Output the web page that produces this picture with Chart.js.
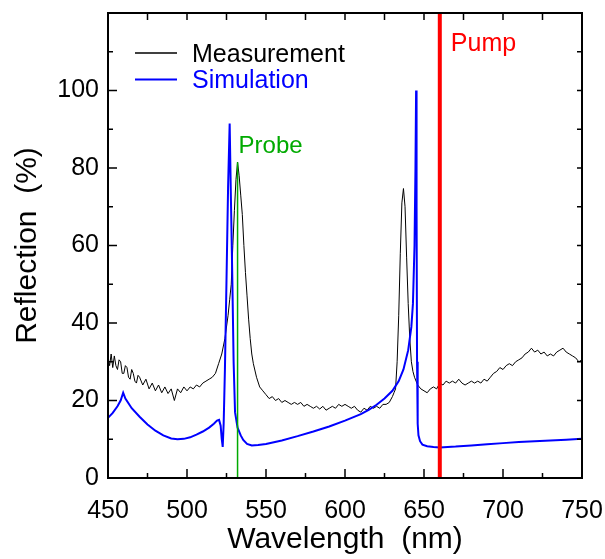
<!DOCTYPE html>
<html>
<head>
<meta charset="utf-8">
<script src="https://cdn.jsdelivr.net/npm/chart.js@4.4.1/dist/chart.umd.min.js"></script>
<style>
  html,body{margin:0;padding:0;background:#fff;}
  #c{display:block;}
</style>
</head>
<body>
<canvas id="c" width="605" height="559"></canvas>
<script>
/* ---- data ------------------------------------------------------------ */
const MEAS_WL = [450,451,452,453,454,455,456,457,458,459,460,461,462,463,464,465,466,467,468,469,
  470,472,474,476,478,480,482,484,486,488,
  490,492,494,496,498,500,502,504,506,508,510,512,514,516,518,520,522,524,526,527,528,529,530,531,
  532,533,534,535,536,537,538,539,540,541,542,544,546,548,550,552,554,556,558,560,562,564,566,568,
  570,572,574,576,578,580,582,584,586,588,590,592,594,596,598,600,602,604,606,608,610,612,614,616,
  618,620,622,624,626,628,630,631,632,633,634,635,636,637,638,639,640,641,642,643,644,646,648,650,
  652,654,656,658,660,662,664,666,668,670,672,674,676,678,680,682,684,686,688,690,692,694,696,698,
  700,702,704,706,708,710,712,714,716,718,720,722,724,726,728,730,732,734,736,738,740,742,744,746,
  748,750];
const MEAS_R = [31,29,32,28.5,31.5,29,28,30.5,30,27,27,29,28.5,26,25.5,28,27,25,24.5,26.5,
  26,24,25.5,23,24.5,22.5,24,22,23.5,21.8,
  23,20,23,22,23.5,22.5,23.5,23,24,23.5,24.5,25,25.5,26,27,29.5,32,36,42,46,50,60,69,77,
  81.5,78,73,68,60,53,47,41,36,32,29.5,26,23.5,22.5,21.5,20.5,21,20,20.5,19.5,20,19.5,19,19.5,
  19,19.5,18.5,19,18.5,18,18.5,17.8,18.5,17.5,18,18.5,18,19,18.5,19,18.5,18,18.5,17.5,17,18,17.5,18.5,
  18,18.5,18,19,19,19.5,21,22,23,30,42,58,71,74.7,70,57,45,36,30,27.5,26,24,23,22.5,
  22,23,23.5,23,24.5,24,25,24.5,25,24.5,25.5,24.5,24,24.5,25,24.5,25,24.5,25.5,25,26,27,27.5,28.5,
  28,29,29.5,29,30,30.5,31,32,32.5,33.5,32.5,33,32,32.5,31.5,32,31.5,32.5,33,33.5,32.5,32,31.5,31,
  30,30.5];

const SIM_WL = [450,453,456,458,459.6,461,465,470,475,480,485,490,494,498,502,506,510,514,517,519,
  520.3,521.3,522,522.6,523.2,524,525,526,527,527.8,528.7,529.5,530.4,532,534,535.6,538,541,545,550,
  560,570,580,590,600,610,615,620,625,630,634,637,640,642,643,644,644.6,645,645.3,645.6,646,646.5,
  647.5,649,652,656,660,670,680,690,700,710,720,730,740,750];
const SIM_R = [15.5,16.8,18.5,20,22,20.5,18,15.8,13.8,12.2,11,10.2,10,10.1,10.5,11.2,12,13,14,14.8,
  15,13.5,10,8,14,28,51,75,91.5,72,51,30,17,13,11,9.8,8.8,8.4,8.5,8.8,
  9.7,10.8,12,13.3,14.8,16.5,17.6,18.9,20.5,22.5,25,28,33,39,45,60,80,100,70,30,14,11,
  9.5,8.6,8.2,8,7.9,8.1,8.4,8.7,9,9.3,9.5,9.7,9.9,10.1];

const PROBE_WL = 532, PROBE_TOP = 81.5;
const PUMP_WL = 660;

const X_MAJOR = [450,500,550,600,650,700,750];
const X_MINOR = [475,525,575,625,675,725];
const Y_MAJOR = [0,20,40,60,80,100];
const Y_MINOR = [10,30,50,70,90,110];

const FONT = "'Liberation Sans', Arial, sans-serif";
const BLUE = "#0000ff", RED = "#ff0000", GREEN = "#00aa00";

const pts = (xs, ys) => xs.map((x,i)=>({x, y: ys[i]}));

/* ---- frame, inward ticks, labels, legend ----------------------------- */
const decor = {
  id: "decor",
  afterDraw(chart){
    const {ctx, chartArea: a, scales: {x, y}} = chart;
    ctx.save();
    ctx.strokeStyle = "#000";
    ctx.lineWidth = 1.5;
    ctx.beginPath();
    const tick = (x0,y0,x1,y1) => { ctx.moveTo(x0,y0); ctx.lineTo(x1,y1); };
    X_MAJOR.forEach(v=>{ const p = x.getPixelForValue(v); tick(p,a.bottom,p,a.bottom-9); tick(p,a.top,p,a.top+7); });
    X_MINOR.forEach(v=>{ const p = x.getPixelForValue(v); tick(p,a.bottom,p,a.bottom-5); tick(p,a.top,p,a.top+7); });
    Y_MAJOR.forEach(v=>{ const p = y.getPixelForValue(v); tick(a.left,p,a.left+9,p); tick(a.right,p,a.right-5,p); });
    Y_MINOR.forEach(v=>{ const p = y.getPixelForValue(v); tick(a.left,p,a.left+5,p); tick(a.right,p,a.right-5,p); });
    ctx.stroke();
    ctx.lineWidth = 2;
    ctx.strokeRect(a.left, a.top, a.right-a.left, a.bottom-a.top);

    // annotations
    ctx.textBaseline = "middle";
    ctx.textAlign = "left";
    ctx.font = "24px " + FONT;
    ctx.fillStyle = GREEN;
    ctx.fillText("Probe", x.getPixelForValue(PROBE_WL)+1, y.getPixelForValue(85.5));
    ctx.font = "25px " + FONT;
    ctx.fillStyle = RED;
    ctx.fillText("Pump", x.getPixelForValue(PUMP_WL)+11, y.getPixelForValue(112));

    // legend
    const items = [["Measurement","#000",1.3],["Simulation",BLUE,2]];
    items.forEach(([t,c,w],i)=>{
      const yy = a.top + 40 + i*26.5;
      ctx.strokeStyle = c; ctx.lineWidth = w;
      ctx.beginPath(); ctx.moveTo(a.left+27, yy); ctx.lineTo(a.left+69, yy); ctx.stroke();
      ctx.fillStyle = c;
      ctx.fillText(t, a.left+84, yy + 2);
    });
    ctx.restore();
  }
};

Chart.defaults.font.family = FONT;
Chart.defaults.color = "#000";

new Chart(document.getElementById("c"), {
  type: "scatter",
  data: {
    datasets: [
      { label: "Pump", data: pts([PUMP_WL,PUMP_WL],[0,120]), showLine: true,
        borderColor: RED, borderWidth: 4, pointRadius: 0, order: 0 },
      { label: "Probe", data: pts([PROBE_WL,PROBE_WL],[0,PROBE_TOP]), showLine: true,
        borderColor: GREEN, borderWidth: 1.5, pointRadius: 0, order: 1 },
      { label: "Simulation", data: pts(SIM_WL, SIM_R), showLine: true,
        borderColor: BLUE, borderWidth: 2, pointRadius: 0, order: 2 },
      { label: "Measurement", data: pts(MEAS_WL, MEAS_R), showLine: true,
        borderColor: "#000", borderWidth: 1, pointRadius: 0, order: 3 }
    ]
  },
  options: {
    responsive: false,
    animation: false,
    devicePixelRatio: 1,
    layout: { padding: { left: 0, top: 13, right: 23, bottom: 0 } },
    plugins: { legend: { display: false }, tooltip: { enabled: false } },
    scales: {
      x: {
        type: "linear", min: 450, max: 750,
        afterFit: s => { s.height = 81; s.paddingLeft = 0; s.paddingRight = 0; },
        grid: { display: false, drawTicks: false },
        border: { display: false },
        ticks: { stepSize: 50, padding: 18, maxRotation: 0, font: { size: 25 }, color: "#000" },
        title: { display: true, text: "Wavelength  (nm)", font: { size: 30 }, color: "#000",
                 padding: { top: 0, bottom: 1 } }
      },
      y: {
        min: 0, max: 120,
        afterFit: s => { s.width = 108; s.paddingTop = 0; s.paddingBottom = 0; },
        grid: { display: false, drawTicks: false },
        border: { display: false },
        ticks: { stepSize: 20, padding: 9, font: { size: 25 }, color: "#000",
                 callback: v => v <= 100 ? v : "" },
        title: { display: true, text: "Reflection  (%)", font: { size: 30 }, color: "#000",
                 padding: { top: 10, bottom: 0 } }
      }
    }
  },
  plugins: [decor]
});
</script>
</body>
</html>
